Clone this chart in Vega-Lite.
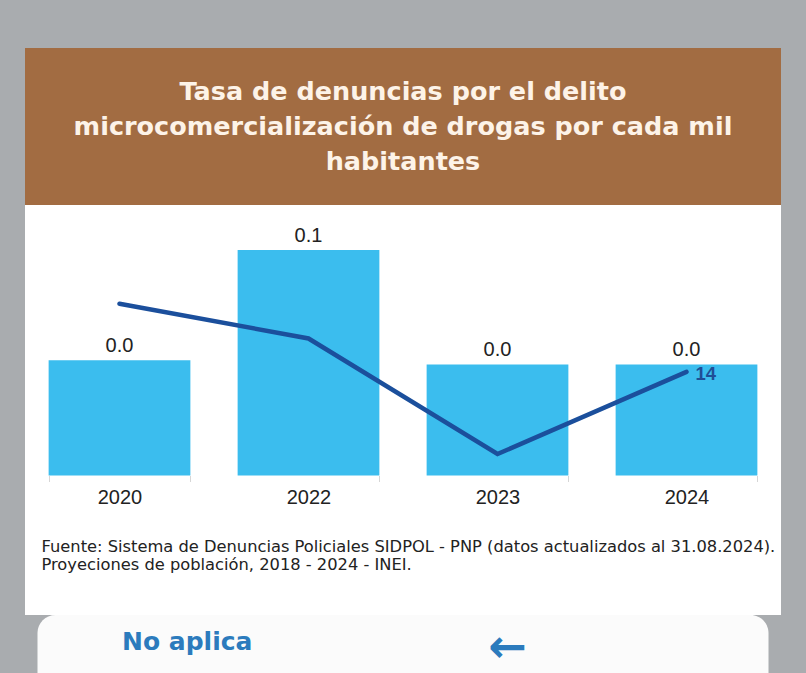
{
  "$schema": "https://vega.github.io/schema/vega-lite/v6.json",
  "background": "#a9acaf",
  "padding": {"left": 25, "top": 48, "right": 25, "bottom": 0},
  "spacing": 0,
  "bounds": "flush",
  "center": true,
  "config": {
    "font": "Liberation Sans",
    "view": {"stroke": null},
    "concat": {"spacing": 0}
  },
  "datasets": {
    "serie": [
      {"anio": "2020", "tasa": 0.046, "denuncias": 23.2},
      {"anio": "2022", "tasa": 0.09, "denuncias": 18.5},
      {"anio": "2023", "tasa": 0.0443, "denuncias": 2.9},
      {"anio": "2024", "tasa": 0.0443, "denuncias": 14}
    ]
  },
  "vconcat": [
    {
      "width": 756,
      "height": 157,
      "view": {"fill": "#a26c42", "stroke": null},
      "data": {"values": [{"titulo": "Tasa de denuncias"}]},
      "mark": {
        "type": "text",
        "text": ["Tasa de denuncias por el delito", "microcomercialización de drogas por cada mil", "habitantes"],
        "font": "DejaVu Sans",
        "fontWeight": "bold",
        "fontSize": 25.5,
        "lineHeight": 35,
        "color": "#fdf3e8",
        "align": "center",
        "baseline": "middle"
      },
      "encoding": {"x": {"value": 378}, "y": {"value": 44}}
    },
    {
      "width": 756,
      "height": 410,
      "view": {"fill": "#ffffff", "stroke": null},
      "data": {"name": "serie"},
      "encoding": {
        "x": {
          "field": "anio",
          "type": "nominal",
          "sort": null,
          "scale": {"paddingInner": 0.25, "paddingOuter": 0.125},
          "axis": {
            "orient": "bottom",
            "offset": -139.5,
            "domain": false,
            "labelAngle": 0,
            "labelFont": "Liberation Sans",
            "labelFontSize": 20,
            "labelColor": "#222222",
            "labelPadding": 6,
            "tickBand": "extent",
            "tickColor": "#d6d6d6",
            "tickSize": 6,
            "title": ["Fuente: Sistema de Denuncias Policiales SIDPOL - PNP (datos actualizados al 31.08.2024).", "Proyeciones de población, 2018 - 2024 - INEI."],
            "titleFont": "DejaVu Sans",
            "titleFontSize": 16.3,
            "titleFontWeight": "normal",
            "titleColor": "#222222",
            "titleAnchor": "start",
            "titleAlign": "left",
            "titleBaseline": "top",
            "titleX": 16,
            "titleY": 62.5,
            "titleLineHeight": 18.5
          }
        }
      },
      "layer": [
        {
          "mark": {"type": "bar", "color": "#3bbdee"},
          "encoding": {
            "y": {"field": "tasa", "type": "quantitative", "scale": {"domain": [-0.05568, 0.10795]}, "axis": null},
            "y2": {"datum": 0}
          }
        },
        {
          "mark": {"type": "text", "fontSize": 20, "color": "#222222", "baseline": "alphabetic", "dy": -8},
          "encoding": {
            "y": {"field": "tasa", "type": "quantitative", "scale": {"domain": [-0.05568, 0.10795]}, "axis": null},
            "text": {"field": "tasa", "type": "quantitative", "format": ".1f"}
          }
        },
        {
          "layer": [
            {
              "mark": {"type": "line", "color": "#1b4f9c", "strokeWidth": 4.5, "strokeCap": "round"},
              "encoding": {
                "y": {"field": "denuncias", "type": "quantitative", "scale": {"domain": [-18.83, 36.52]}, "axis": null}
              }
            },
            {
              "transform": [{"filter": "datum.anio == '2024'"}],
              "mark": {"type": "text", "fontSize": 18.5, "fontWeight": "bold", "color": "#1f4e96", "align": "left", "baseline": "middle", "dx": 9, "dy": 2},
              "encoding": {
                "y": {"field": "denuncias", "type": "quantitative", "scale": {"domain": [-18.83, 36.52]}, "axis": null},
                "text": {"field": "denuncias", "type": "quantitative", "format": "d"}
              }
            }
          ]
        }
      ],
      "resolve": {"scale": {"y": "independent"}}
    },
    {
      "width": 731,
      "height": 80,
      "view": {"fill": "#fbfbfb", "stroke": null, "cornerRadius": 18},
      "data": {"values": [{"etiqueta": "No aplica"}]},
      "layer": [
        {
          "mark": {"type": "text", "font": "DejaVu Sans", "fontWeight": "bold", "fontSize": 25, "color": "#2c7bbd", "align": "left", "baseline": "alphabetic"},
          "encoding": {"x": {"value": 84.5}, "y": {"value": 35}, "text": {"field": "etiqueta"}}
        },
        {
          "mark": {"type": "text", "text": "←", "font": "DejaVu Sans", "fontWeight": "bold", "fontSize": 46, "color": "#2c7bbd", "align": "center", "baseline": "middle"},
          "encoding": {"x": {"value": 470}, "y": {"value": 33}}
        }
      ]
    }
  ]
}
